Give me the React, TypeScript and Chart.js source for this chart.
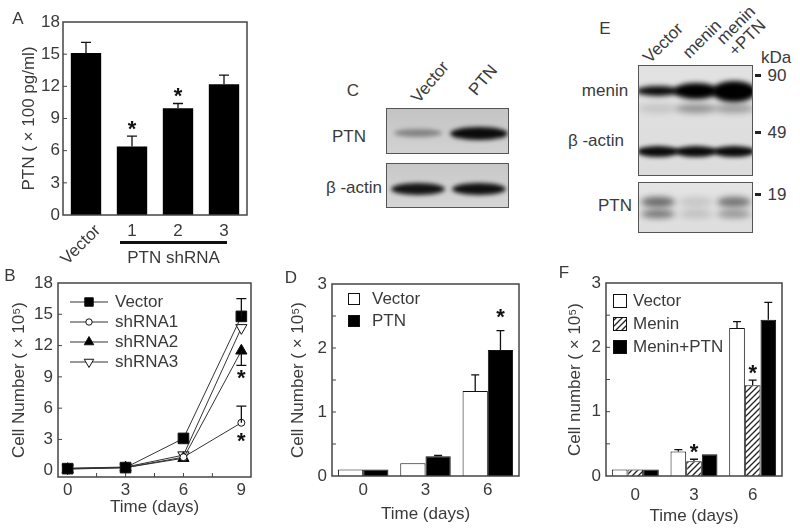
import React, { useEffect, useRef } from 'react';
import { Chart, registerables } from 'chart.js';
import { drawPoint } from 'chart.js/helpers';

Chart.register(...registerables);

const FONT = '"Liberation Sans", Arial, Helvetica, sans-serif';
const TXT = '#3a3a3a';
const FS = 17;
Chart.defaults.font.family = FONT;
Chart.defaults.color = TXT;

// ---------- Panel A data ----------
const aCategories = ['Vector', '1', '2', '3'];
const aValues = [15.1, 6.4, 9.95, 12.2];
const aErrors = [1.0, 0.95, 0.45, 0.85];
const aStars = [1, 2];
const aGroupLabel = 'PTN shRNA';

// ---------- Panel B data ----------
const bDays = [0, 3, 6, 9];
const bYTicks = [0, 3, 6, 9, 12, 15, 18];
const bLabels = ['Vector', 'shRNA1', 'shRNA2', 'shRNA3'];
const bVector = [0.2, 0.3, 3.1, 14.8];
const bShRNA1 = [0.2, 0.3, 1.3, 4.6];
const bShRNA2 = [0.15, 0.3, 1.2, 11.5];
const bShRNA3 = [0.25, 0.35, 1.5, 13.7];
const bVectorErr = [0, 0, 0, 1.7];
const bShRNA1Err = [0, 0, 0, 1.6];
const bShRNA2Err = [0, 0, 0, -1.4];
const bShRNA3Err = [0, 0, 0, 0];
const bStarDays = [9, 9];
const bStarValues = [9.4, 3.35];

// ---------- Panel C blot ----------
const cLanes = ['Vector', 'PTN'];
const cPTNBand = [0.35, 0.95];
const cActinBand = [0.9, 0.92];

// ---------- Panel D data ----------
const dDays = ['0', '3', '6'];
const dVector = [0.1, 0.2, 1.33];
const dVectorErr = [0, 0, 0.25];
const dPTN = [0.1, 0.31, 1.97];
const dPTNErr = [0, 0.01, 0.3];
const dStars: [number, number][] = [[1, 2]];

// ---------- Panel E blot ----------
const eLanes = ['Vector', 'menin', 'menin\n+PTN'];
const eMeninBand = [0.95, 1, 1];
const eMeninLower = [0.12, 0.35, 0.3];
const eActinBand = [0.95, 0.95, 0.95];
const ePTNUpper = [0.55, 0.12, 0.5];
const ePTNLower = [0.5, 0.15, 0.35];
const eMarkers = ['90', '49', '19'];

// ---------- Panel F data ----------
const fDays = ['0', '3', '6'];
const fVector = [0.1, 0.38, 2.3];
const fVectorErr = [0, 0.03, 0.1];
const fMenin = [0.1, 0.23, 1.41];
const fMeninErr = [0, 0.03, 0.08];
const fMeninPTN = [0.1, 0.34, 2.43];
const fMeninPTNErr = [0, 0, 0.27];
const fStars: [number, number][] = [[1, 1], [1, 2]];

// ---------- helpers ----------
const fontT = { family: FONT, size: FS };

const framePlugin = {
  id: 'frame',
  afterDraw(chart: any) {
    const { ctx, chartArea: a } = chart;
    ctx.save();
    ctx.strokeStyle = '#444';
    ctx.lineWidth = 1.5;
    ctx.strokeRect(a.left, a.top, a.right - a.left, a.bottom - a.top);
    ctx.restore();
  },
};

function inwardTicks(yVals: number[], xVals: number[], len: number) {
  return {
    id: 'inticks',
    afterDraw(chart: any) {
      const { ctx, chartArea: a, scales } = chart;
      ctx.save();
      ctx.strokeStyle = '#444';
      ctx.lineWidth = 1;
      ctx.beginPath();
      yVals.forEach((v) => {
        const y = scales.y.getPixelForValue(v);
        ctx.moveTo(a.left, y);
        ctx.lineTo(a.left + len, y);
      });
      xVals.forEach((v) => {
        const x = scales.x.getPixelForValue(v);
        ctx.moveTo(x, a.bottom);
        ctx.lineTo(x, a.bottom - len);
      });
      ctx.stroke();
      ctx.restore();
    },
  };
}

function valOf(v: any) {
  return typeof v === 'number' ? v : v.y;
}

function errorBars(errs: number[][], cap: number) {
  return {
    id: 'errbars',
    afterDatasetsDraw(chart: any) {
      const ctx = chart.ctx;
      const ys = chart.scales.y;
      ctx.save();
      ctx.strokeStyle = '#111';
      ctx.lineWidth = 1.3;
      errs.forEach((arr, di) => {
        const meta = chart.getDatasetMeta(di);
        arr.forEach((e, i) => {
          if (!e) return;
          const el = meta.data[i];
          const val = valOf(chart.data.datasets[di].data[i]);
          const y0 = ys.getPixelForValue(val);
          const y1 = ys.getPixelForValue(val + e);
          ctx.beginPath();
          ctx.moveTo(el.x, y0);
          ctx.lineTo(el.x, y1);
          ctx.moveTo(el.x - cap, y1);
          ctx.lineTo(el.x + cap, y1);
          ctx.stroke();
        });
      });
      ctx.restore();
    },
  };
}

function drawStar(ctx: any, x: number, cy: number) {
  ctx.save();
  ctx.fillStyle = '#111';
  ctx.font = `bold 22px ${FONT}`;
  ctx.textAlign = 'center';
  ctx.textBaseline = 'alphabetic';
  ctx.fillText('*', x, cy + 12.5);
  ctx.restore();
}

function barStars(stars: [number, number][], errs: number[][], offset: number) {
  return {
    id: 'stars',
    afterDraw(chart: any) {
      const ys = chart.scales.y;
      stars.forEach(([di, i]) => {
        const el = chart.getDatasetMeta(di).data[i];
        const val = valOf(chart.data.datasets[di].data[i]) + (errs[di][i] || 0);
        drawStar(chart.ctx, el.x, ys.getPixelForValue(val) - offset);
      });
    },
  };
}

function ChartBox(props: { left: number; top: number; width: number; height: number; make: () => any }) {
  const ref = useRef<HTMLCanvasElement>(null);
  useEffect(() => {
    const chart = new Chart(ref.current as HTMLCanvasElement, props.make());
    return () => chart.destroy();
  }, []);
  return (
    <div style={{ position: 'absolute', left: props.left, top: props.top, width: props.width, height: props.height }}>
      <canvas ref={ref} width={props.width} height={props.height} style={{ width: props.width, height: props.height, display: 'block' }} />
    </div>
  );
}

function yAxis(opts: { min: number; max: number; step: number; width: number; title: string; pad: number; labelEvery?: number; tickList?: number[] }) {
  const ax: any = {
    min: opts.min,
    max: opts.max,
    afterFit: (s: any) => {
      s.width = opts.width;
    },
    grid: { display: false, drawTicks: false },
    border: { display: false },
    ticks: {
      stepSize: opts.step,
      padding: opts.pad,
      font: fontT,
      color: TXT,
      callback: (v: number) => {
        if (opts.labelEvery && Math.abs(v / opts.labelEvery - Math.round(v / opts.labelEvery)) > 1e-6) return '';
        return String(v);
      },
    },
    title: { display: true, text: opts.title, font: fontT, color: TXT, padding: 4 },
  };
  if (opts.tickList) {
    const list = opts.tickList;
    ax.afterBuildTicks = (s: any) => {
      s.ticks = list.map((v) => ({ value: v }));
    };
  }
  return ax;
}

// ---------- Panel A ----------
function makeA() {
  const labelPlugin = {
    id: 'alabels',
    afterDraw(chart: any) {
      const { ctx, scales } = chart;
      const xs = scales.x;
      ctx.save();
      ctx.fillStyle = TXT;
      ctx.font = `${FS}px ${FONT}`;
      aCategories.forEach((c, i) => {
        const x = xs.getPixelForValue(i);
        if (i === 0) {
          ctx.save();
          ctx.translate(x + 12, 228);
          ctx.rotate(-Math.PI / 4);
          ctx.textAlign = 'right';
          ctx.textBaseline = 'middle';
          ctx.fillText(c, 0, 0);
          ctx.restore();
        } else {
          ctx.textAlign = 'center';
          ctx.textBaseline = 'middle';
          ctx.fillText(c, x, 231);
        }
      });
      const x1 = xs.getPixelForValue(1) - 12;
      const x3 = xs.getPixelForValue(3) + 3;
      ctx.fillStyle = '#111';
      ctx.fillRect(x1, 241, x3 - x1, 3);
      ctx.fillStyle = TXT;
      ctx.textAlign = 'center';
      ctx.textBaseline = 'middle';
      ctx.fillText(aGroupLabel, (x1 + x3) / 2, 258);
      ctx.restore();
    },
  };
  return {
    type: 'bar',
    data: {
      labels: aCategories,
      datasets: [
        { data: aValues, backgroundColor: '#000', borderWidth: 0, categoryPercentage: 0.66, barPercentage: 1 },
      ],
    },
    options: {
      responsive: false,
      animation: false,
      devicePixelRatio: 1,
      layout: { padding: { left: 15, top: 22, right: 15, bottom: 0 } },
      plugins: { legend: { display: false }, tooltip: { enabled: false } },
      scales: {
        x: {
          afterFit: (s: any) => {
            s.height = 55;
          },
          grid: { display: false, drawTicks: false },
          border: { display: false },
          ticks: { display: false },
        },
        y: yAxis({ min: 0, max: 18, step: 3, width: 48, title: 'PTN ( × 100 pg/ml)', pad: 3 }),
      },
    },
    plugins: [
      framePlugin,
      inwardTicks([3, 6, 9, 12, 15], [], 4),
      errorBars([aErrors], 5),
      barStars(aStars.map((i) => [0, i] as [number, number]), [aErrors], 13),
      labelPlugin,
    ],
  };
}

// ---------- Panel B ----------
const bStyles = [
  { pointStyle: 'rect', radius: 7.5, fill: '#000', rot: 0, lr: 6 },
  { pointStyle: 'circle', radius: 3.5, fill: '#fff', rot: 0, lr: 3.2 },
  { pointStyle: 'triangle', radius: 6.5, fill: '#000', rot: 0, lr: 5.5 },
  { pointStyle: 'triangle', radius: 6.5, fill: '#fff', rot: 180, lr: 5.5 },
];

function makeB() {
  const series = [bVector, bShRNA1, bShRNA2, bShRNA3];
  const errs = [bVectorErr, bShRNA1Err, bShRNA2Err, bShRNA3Err];
  const legendPlugin = {
    id: 'blegend',
    afterDraw(chart: any) {
      const ctx = chart.ctx;
      ctx.save();
      bLabels.forEach((lab, i) => {
        const y = 302 - 262 + i * 20;
        ctx.strokeStyle = '#333';
        ctx.lineWidth = 1.2;
        ctx.beginPath();
        ctx.moveTo(70, y);
        ctx.lineTo(108, y);
        ctx.stroke();
        const st = bStyles[i];
        ctx.fillStyle = st.fill;
        ctx.strokeStyle = '#111';
        ctx.lineWidth = 1;
        drawPoint(ctx, { pointStyle: st.pointStyle as any, radius: st.lr, rotation: st.rot, borderWidth: 1 }, 89, y);
        ctx.fillStyle = TXT;
        ctx.font = `${FS}px ${FONT}`;
        ctx.textAlign = 'left';
        ctx.textBaseline = 'middle';
        ctx.fillText(lab, 115, y);
      });
      ctx.restore();
    },
  };
  const starPlugin = {
    id: 'bstars',
    afterDraw(chart: any) {
      bStarDays.forEach((d, i) => {
        drawStar(chart.ctx, chart.scales.x.getPixelForValue(d), chart.scales.y.getPixelForValue(bStarValues[i]));
      });
    },
  };
  return {
    type: 'line',
    data: {
      datasets: series.map((s, i) => ({
        label: bLabels[i],
        data: s.map((v, j) => ({ x: bDays[j], y: v })),
        borderColor: '#333',
        borderWidth: 1,
        tension: 0,
        pointStyle: bStyles[i].pointStyle,
        pointRadius: bStyles[i].radius,
        pointRotation: bStyles[i].rot,
        pointBackgroundColor: bStyles[i].fill,
        pointBorderColor: '#111',
        pointBorderWidth: 1,
      })),
    },
    options: {
      responsive: false,
      animation: false,
      devicePixelRatio: 1,
      layout: { padding: { left: 5, top: 21, right: 11, bottom: 10 } },
      plugins: { legend: { display: false }, tooltip: { enabled: false } },
      scales: {
        x: {
          type: 'linear',
          min: -0.5,
          max: 9.5,
          afterBuildTicks: (s: any) => {
            s.ticks = bDays.map((v) => ({ value: v }));
          },
          afterFit: (s: any) => {
            s.height = 45;
          },
          grid: { display: false, drawTicks: false },
          border: { display: false },
          ticks: { padding: 3, font: fontT, color: TXT },
          title: { display: true, text: 'Time (days)', font: fontT, color: TXT, padding: 4 },
        },
        y: yAxis({ min: -0.6, max: 18, step: 3, width: 53, title: 'Cell Number ( × 10⁵)', pad: 5, tickList: bYTicks }),
      },
    },
    plugins: [
      framePlugin,
      inwardTicks([3, 6, 9, 12, 15], [1.5, 3, 4.5, 6, 7.5], 4),
      errorBars(errs, 5),
      starPlugin,
      legendPlugin,
    ],
  };
}

// ---------- Panel D ----------
function makeD() {
  const errs = [dVectorErr, dPTNErr];
  const legendPlugin = {
    id: 'dlegend',
    afterDraw(chart: any) {
      const ctx = chart.ctx;
      const items = [
        { label: 'Vector', fill: '#fff', y: 299 },
        { label: 'PTN', fill: '#000', y: 321 },
      ];
      ctx.save();
      items.forEach((it) => {
        const x0 = 348 - 270;
        ctx.fillStyle = it.fill;
        ctx.fillRect(x0, it.y - 262 - 6, 12, 12);
        ctx.strokeStyle = '#111';
        ctx.lineWidth = 1;
        ctx.strokeRect(x0 + 0.5, it.y - 262 - 5.5, 11, 11);
        ctx.fillStyle = TXT;
        ctx.font = `${FS}px ${FONT}`;
        ctx.textAlign = 'left';
        ctx.textBaseline = 'middle';
        ctx.fillText(it.label, 372 - 270, it.y - 262);
      });
      ctx.restore();
    },
  };
  return {
    type: 'bar',
    data: {
      labels: dDays,
      datasets: [
        { label: 'Vector', data: dVector, backgroundColor: '#fff', borderColor: '#111', borderWidth: 1, categoryPercentage: 0.81, barPercentage: 1 },
        { label: 'PTN', data: dPTN, backgroundColor: '#000', borderColor: '#111', borderWidth: 1, categoryPercentage: 0.81, barPercentage: 1 },
      ],
    },
    options: {
      responsive: false,
      animation: false,
      devicePixelRatio: 1,
      layout: { padding: { left: 14, top: 22, right: 13, bottom: 3 } },
      plugins: { legend: { display: false }, tooltip: { enabled: false } },
      scales: {
        x: {
          afterFit: (s: any) => {
            s.height = 53;
          },
          grid: { display: false, drawTicks: false },
          border: { display: false },
          ticks: { padding: 4, font: fontT, color: TXT },
          title: { display: true, text: 'Time (days)', font: fontT, color: TXT, padding: 4 },
        },
        y: yAxis({ min: 0, max: 3, step: 0.5, width: 48, title: 'Cell Number ( × 10⁵)', pad: 5, labelEvery: 1 }),
      },
    },
    plugins: [framePlugin, inwardTicks([0.5, 1, 1.5, 2, 2.5], [], 4), errorBars(errs, 4), barStars(dStars, errs, 19), legendPlugin],
  };
}

// ---------- Panel F ----------
function hatchPattern() {
  const c = document.createElement('canvas');
  c.width = 6;
  c.height = 6;
  const g = c.getContext('2d') as CanvasRenderingContext2D;
  g.fillStyle = '#fff';
  g.fillRect(0, 0, 6, 6);
  g.strokeStyle = '#222';
  g.lineWidth = 1.3;
  g.beginPath();
  g.moveTo(-1, 7);
  g.lineTo(7, -1);
  g.moveTo(-1, 1);
  g.lineTo(1, -1);
  g.moveTo(5, 7);
  g.lineTo(7, 5);
  g.stroke();
  return g.createPattern(c, 'repeat');
}

function makeF() {
  const errs = [fVectorErr, fMeninErr, fMeninPTNErr];
  const hatch = hatchPattern();
  const legendPlugin = {
    id: 'flegend',
    afterDraw(chart: any) {
      const ctx = chart.ctx;
      const items = [
        { label: 'Vector', fill: '#fff' as any, y: 301 },
        { label: 'Menin', fill: hatch as any, y: 324 },
        { label: 'Menin+PTN', fill: '#000' as any, y: 347 },
      ];
      ctx.save();
      items.forEach((it) => {
        const x0 = 613 - 540;
        const yy = it.y - 262;
        ctx.fillStyle = it.fill;
        ctx.fillRect(x0, yy - 7, 14, 14);
        ctx.strokeStyle = '#111';
        ctx.lineWidth = 1;
        ctx.strokeRect(x0 + 0.5, yy - 6.5, 13, 13);
        ctx.fillStyle = TXT;
        ctx.font = `${FS}px ${FONT}`;
        ctx.textAlign = 'left';
        ctx.textBaseline = 'middle';
        ctx.fillText(it.label, 633 - 540, yy);
      });
      ctx.restore();
    },
  };
  return {
    type: 'bar',
    data: {
      labels: fDays,
      datasets: [
        { label: 'Vector', data: fVector, backgroundColor: '#fff', borderColor: '#111', borderWidth: 1, categoryPercentage: 0.8, barPercentage: 1 },
        { label: 'Menin', data: fMenin, backgroundColor: hatch, borderColor: '#111', borderWidth: 1, categoryPercentage: 0.8, barPercentage: 1 },
        { label: 'Menin+PTN', data: fMeninPTN, backgroundColor: '#000', borderColor: '#111', borderWidth: 1, categoryPercentage: 0.8, barPercentage: 1 },
      ],
    },
    options: {
      responsive: false,
      animation: false,
      devicePixelRatio: 1,
      layout: { padding: { left: 21, top: 21, right: 18, bottom: 1 } },
      plugins: { legend: { display: false }, tooltip: { enabled: false } },
      scales: {
        x: {
          afterFit: (s: any) => {
            s.height = 55;
          },
          grid: { display: false, drawTicks: false },
          border: { display: false },
          ticks: { padding: 9, font: fontT, color: TXT },
          title: { display: true, text: 'Time (days)', font: fontT, color: TXT, padding: 4 },
        },
        y: yAxis({ min: 0, max: 3, step: 0.5, width: 45, title: 'Cell number ( × 10⁵)', pad: 5, labelEvery: 1 }),
      },
    },
    plugins: [framePlugin, inwardTicks([0.5, 1, 1.5, 2, 2.5], [], 4), errorBars(errs, 4), barStars(fStars, errs, 13), legendPlugin],
  };
}

// ---------- HTML pieces ----------
function T(props: { x: number; y: number; children: any; size?: number; rot?: number; align?: string }) {
  return (
    <div
      style={{
        position: 'absolute',
        left: props.x,
        top: props.y,
        transform: `translate(-50%, -50%) rotate(${props.rot || 0}deg)`,
        fontFamily: FONT,
        fontSize: props.size || FS,
        color: TXT,
        whiteSpace: 'pre',
        lineHeight: 1.0,
        textAlign: (props.align as any) || 'center',
      }}
    >
      {props.children}
    </div>
  );
}

function Band(props: { cx: number; cy: number; w: number; h: number; o: number; blur?: number }) {
  return (
    <div
      style={{
        position: 'absolute',
        left: props.cx - props.w / 2,
        top: props.cy - props.h / 2,
        width: props.w,
        height: props.h,
        borderRadius: '50%',
        background: `rgba(0,0,0,${props.o})`,
        filter: `blur(${props.blur ?? 2}px)`,
      }}
    />
  );
}

function Strip(props: { x: number; y: number; w: number; h: number; bg: string; children: any }) {
  return (
    <div
      style={{
        position: 'absolute',
        left: props.x,
        top: props.y,
        width: props.w,
        height: props.h,
        background: props.bg,
        border: '1.5px solid #555',
        boxSizing: 'border-box',
        overflow: 'hidden',
      }}
    >
      {props.children}
    </div>
  );
}

function BlotC() {
  const lx = [31, 92];
  return (
    <>
      <T x={353} y={90}>C</T>
      <T x={430} y={82} rot={-50}>{cLanes[0]}</T>
      <T x={483} y={80} rot={-50}>{cLanes[1]}</T>
      <T x={349} y={136}>PTN</T>
      <T x={354} y={187}>β -actin</T>
      <Strip x={386} y={108} w={123} h={46} bg="linear-gradient(#c4c4c4, #d2d2d2)">
        <Band cx={lx[0]} cy={24} w={48} h={8} o={cPTNBand[0]} />
        <Band cx={lx[1]} cy={24} w={58} h={13} o={cPTNBand[1]} />
      </Strip>
      <Strip x={386} y={163} w={123} h={45} bg="linear-gradient(#c8c8c8, #d6d6d6)">
        <Band cx={lx[0]} cy={25} w={54} h={12} o={cActinBand[0]} />
        <Band cx={lx[1]} cy={25} w={54} h={12} o={cActinBand[1]} />
      </Strip>
    </>
  );
}

function BlotE() {
  const lx = [19, 57, 95];
  const mh = [10, 16, 21];
  return (
    <>
      <T x={605} y={28}>E</T>
      <T x={663} y={43} rot={-45}>{eLanes[0]}</T>
      <T x={702} y={39} rot={-45}>{eLanes[1]}</T>
      <T x={742} y={31} rot={-45} align="left">{eLanes[2]}</T>
      <T x={776} y={57}>kDa</T>
      <T x={605} y={90}>menin</T>
      <T x={596} y={140}>β -actin</T>
      <T x={615} y={205}>PTN</T>
      {[75, 132, 194].map((y, i) => (
        <React.Fragment key={i}>
          <div style={{ position: 'absolute', left: 755, top: y - 1.5, width: 6, height: 3, background: '#222' }} />
          <T x={777} y={y}>{eMarkers[i]}</T>
        </React.Fragment>
      ))}
      <Strip x={638} y={65} w={115} h={111} bg="linear-gradient(#e2e2e2, #dcdcdc)">
        {lx.map((x, i) => (
          <React.Fragment key={i}>
            <Band cx={x} cy={25} w={44} h={mh[i]} o={eMeninBand[i]} blur={2.5} />
            <Band cx={x} cy={42} w={40} h={9} o={eMeninLower[i]} blur={3} />
            <Band cx={x} cy={85} w={42} h={11} o={eActinBand[i]} blur={2} />
          </React.Fragment>
        ))}
      </Strip>
      <Strip x={638} y={182} w={115} h={51} bg="linear-gradient(#e4e4e4, #dedede)">
        {lx.map((x, i) => (
          <React.Fragment key={i}>
            <Band cx={x} cy={19} w={34} h={10} o={ePTNUpper[i]} blur={3} />
            <Band cx={x} cy={31} w={34} h={8} o={ePTNLower[i]} blur={3} />
          </React.Fragment>
        ))}
      </Strip>
    </>
  );
}

export default function App() {
  return (
    <div style={{ position: 'absolute', left: 0, top: 0, width: 800, height: 532, background: '#fff', overflow: 'hidden' }}>
      <ChartBox left={0} top={0} width={262} height={270} make={makeA} />
      <ChartBox left={0} top={262} width={262} height={270} make={makeB} />
      <ChartBox left={270} top={262} width={262} height={270} make={makeD} />
      <ChartBox left={540} top={262} width={260} height={270} make={makeF} />
      <T x={18} y={18}>A</T>
      <T x={10} y={275}>B</T>
      <T x={291} y={277}>D</T>
      <T x={564} y={272}>F</T>
      <BlotC />
      <BlotE />
    </div>
  );
}
